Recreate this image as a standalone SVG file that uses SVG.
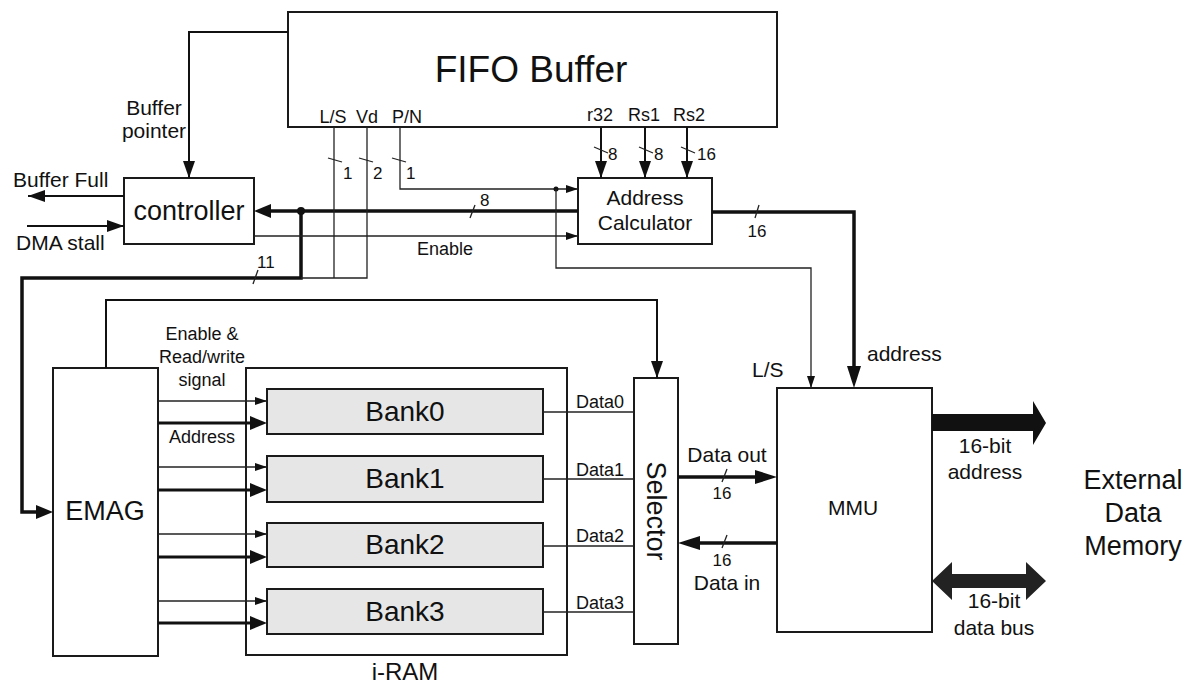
<svg xmlns="http://www.w3.org/2000/svg" width="1188" height="686" viewBox="0 0 1188 686">
<defs>
<style>
text{font-family:"Liberation Sans",Arial,sans-serif;fill:#111}
.box{fill:#fff;stroke:#1a1a1a;stroke-width:2}
.frame{fill:none;stroke:#1a1a1a;stroke-width:2}
.bank{fill:#e6e6e6;stroke:#1a1a1a;stroke-width:2}
.thin{fill:none;stroke:#222;stroke-width:1.3}
.med{fill:none;stroke:#111;stroke-width:2}
.thick{fill:none;stroke:#111;stroke-width:3.5}
.c{text-anchor:middle}
.s17{font-size:17px}.s18{font-size:18px}.s21{font-size:21px}.s27{font-size:27px}
</style>
<marker id="as" viewBox="0 0 12 8" refX="12" refY="4" markerWidth="12" markerHeight="8" markerUnits="userSpaceOnUse" orient="auto"><path d="M0,0 L12,4 L0,8 z" fill="#111"/></marker>
<marker id="am" viewBox="0 0 17 12" refX="17" refY="6" markerWidth="17" markerHeight="12" markerUnits="userSpaceOnUse" orient="auto"><path d="M0,0 L17,6 L0,12 z" fill="#111"/></marker>
<marker id="amT" viewBox="0 0 17 14" refX="11" refY="7" markerWidth="17" markerHeight="14" markerUnits="userSpaceOnUse" orient="auto"><path d="M0,0 L17,7 L0,14 z" fill="#111"/></marker>
<marker id="alT" viewBox="0 0 22 14" refX="16" refY="7" markerWidth="22" markerHeight="14" markerUnits="userSpaceOnUse" orient="auto"><path d="M0,0 L22,7 L0,14 z" fill="#111"/></marker>
</defs>
<rect width="1188" height="686" fill="#fff"/>

<g id="fifo">
<rect class="box" x="288" y="12" width="489" height="115"/>
<text class="c" x="531" y="82" font-size="37">FIFO Buffer</text>
<text class="s18 c" x="333" y="123">L/S</text>
<text class="s18 c" x="367" y="123">Vd</text>
<text class="s18 c" x="407" y="123">P/N</text>
<text class="s18 c" x="600" y="121">r32</text>
<text class="s18 c" x="644" y="121">Rs1</text>
<text class="s18 c" x="689" y="121">Rs2</text>
</g>

<g id="controller">
<rect class="box" x="124" y="178" width="130" height="66"/>
<text class="s27 c" x="189" y="220">controller</text>
</g>

<g id="address-calculator">
<rect class="box" x="578" y="178" width="134" height="66"/>
<text class="s21 c" x="645" y="205">Address</text>
<text class="s21 c" x="645" y="230">Calculator</text>
</g>

<g id="emag">
<rect class="box" x="53" y="368" width="105" height="288"/>
<text class="s27 c" x="105" y="520">EMAG</text>
</g>

<g id="iram">
<rect class="frame" x="246" y="368" width="321" height="287"/>
<text class="c" x="405" y="680" font-size="24">i-RAM</text>
</g>

<g id="bank0"><rect class="bank" x="267" y="389" width="276" height="45"/><text class="c" x="405" y="421" font-size="28">Bank0</text></g>
<g id="bank1"><rect class="bank" x="267" y="456" width="276" height="46"/><text class="c" x="405" y="488" font-size="28">Bank1</text></g>
<g id="bank2"><rect class="bank" x="267" y="523" width="276" height="44"/><text class="c" x="405" y="554" font-size="28">Bank2</text></g>
<g id="bank3"><rect class="bank" x="267" y="589" width="276" height="45"/><text class="c" x="405" y="621" font-size="28">Bank3</text></g>

<g id="selector">
<rect class="box" x="634" y="378" width="44" height="266"/>
<text class="s27 c" transform="translate(656,511) rotate(90)" x="0" y="9.5">Selector</text>
</g>

<g id="mmu">
<rect class="box" x="777" y="388" width="155" height="244"/>
<text class="s21 c" x="853" y="515">MMU</text>
</g>

<g id="external-memory">
<text class="s27 c" x="1133" y="489">External</text>
<text class="s27 c" x="1133" y="522">Data</text>
<text class="s27 c" x="1133" y="555">Memory</text>
</g>

<g id="connectors">
<polyline class="med" points="288,32 189,32 189,178" marker-end="url(#am)"/>
<line class="med" x1="124" y1="196" x2="28" y2="196" marker-end="url(#am)"/>
<line class="med" x1="27" y1="226" x2="124" y2="226" marker-end="url(#am)"/>
<polyline class="thick" points="578,211 260,211" marker-end="url(#amT)"/>
<polyline class="thick" points="301,211 301,278 22,278 22,512 47,512" marker-end="url(#amT)"/>
<circle cx="301" cy="211" r="4" fill="#111"/>
<line class="thin" x1="254" y1="236" x2="578" y2="236" marker-end="url(#as)"/>
<polyline class="thin" points="334,127 334,278"/>
<polyline class="thin" points="367,127 367,278 301,278"/>
<polyline class="thin" points="400,127 400,189 578,189" marker-end="url(#as)"/>
<circle cx="556" cy="189" r="2.5" fill="#111"/>
<polyline class="thin" points="556,189 556,268 811,268 811,388" marker-end="url(#as)"/>
<line class="med" x1="601" y1="127" x2="601" y2="178" marker-end="url(#am)"/>
<line class="med" x1="645" y1="127" x2="645" y2="178" marker-end="url(#am)"/>
<line class="med" x1="687" y1="127" x2="687" y2="178" marker-end="url(#am)"/>
<polyline class="thick" points="712,212 854,212 854,382" marker-end="url(#alT)"/>
<polyline class="med" points="106,368 106,300 657,300 657,378" marker-end="url(#am)"/>
<line class="thin" x1="158" y1="401" x2="267" y2="401" marker-end="url(#as)"/>
<line class="thick" x1="158" y1="423" x2="261" y2="423" style="stroke-width:3" marker-end="url(#amT)"/>
<line class="thin" x1="158" y1="467" x2="267" y2="467" marker-end="url(#as)"/>
<line class="thick" x1="158" y1="490" x2="261" y2="490" style="stroke-width:3" marker-end="url(#amT)"/>
<line class="thin" x1="158" y1="534" x2="267" y2="534" marker-end="url(#as)"/>
<line class="thick" x1="158" y1="557" x2="261" y2="557" style="stroke-width:3" marker-end="url(#amT)"/>
<line class="thin" x1="158" y1="601" x2="267" y2="601" marker-end="url(#as)"/>
<line class="thick" x1="158" y1="623" x2="261" y2="623" style="stroke-width:3" marker-end="url(#amT)"/>
<line class="thin" x1="543" y1="412" x2="634" y2="412" style="stroke-width:1.6"/>
<line class="thin" x1="543" y1="479" x2="634" y2="479" style="stroke-width:1.6"/>
<line class="thin" x1="543" y1="546" x2="634" y2="546" style="stroke-width:1.6"/>
<line class="thin" x1="543" y1="612" x2="634" y2="612" style="stroke-width:1.6"/>
<line class="thick" x1="678" y1="477" x2="771" y2="477" marker-end="url(#alT)"/>
<line class="thick" x1="777" y1="543" x2="684" y2="543" marker-end="url(#alT)"/>
<polygon points="932,414 1033,414 1033,401 1046,423 1033,445 1033,431 932,431" fill="#111"/>
<polygon points="932,581 952,562 952,574 1026,574 1026,562 1046,581 1026,600 1026,588 952,588 952,600" fill="#222"/>
<g class="thin">
<line x1="328" y1="158" x2="342" y2="162"/>
<line x1="359" y1="158" x2="373" y2="162"/>
<line x1="392" y1="158" x2="406" y2="162"/>
<line x1="470" y1="218" x2="475" y2="205"/>
<line x1="253" y1="284" x2="258" y2="270"/>
<line x1="594" y1="147" x2="608" y2="153"/>
<line x1="639" y1="147" x2="653" y2="153"/>
<line x1="681" y1="147" x2="695" y2="153"/>
<line x1="755" y1="218" x2="759" y2="205"/>
<line x1="722" y1="482" x2="727" y2="469"/>
<line x1="722" y1="548" x2="727" y2="535"/>
</g>
<text class="s21 c" x="154" y="115">Buffer</text>
<text class="s21 c" x="154" y="138">pointer</text>
<text class="s21" x="13" y="187">Buffer Full</text>
<text class="s21" x="16" y="250">DMA stall</text>
<text class="s17" x="343" y="179">1</text>
<text class="s17" x="373" y="179">2</text>
<text class="s17" x="406" y="179">1</text>
<text class="s17" x="480" y="206">8</text>
<text class="s18 c" x="445" y="255">Enable</text>
<text class="s17" x="257" y="268">11</text>
<text class="s17" x="608" y="160">8</text>
<text class="s17" x="654" y="160">8</text>
<text class="s17" x="697" y="160">16</text>
<text class="s17 c" x="757" y="237">16</text>
<text class="s21" x="867" y="361">address</text>
<text class="s21" x="752" y="377">L/S</text>
<text class="s18 c" x="202" y="340">Enable &amp;</text>
<text class="s18 c" x="202" y="363">Read/write</text>
<text class="s18 c" x="202" y="386">signal</text>
<text class="s18 c" x="202" y="443">Address</text>
<text class="s18 c" x="600" y="408">Data0</text>
<text class="s18 c" x="600" y="476">Data1</text>
<text class="s18 c" x="600" y="542">Data2</text>
<text class="s18 c" x="600" y="609">Data3</text>
<text class="s21 c" x="727" y="462">Data out</text>
<text class="s17 c" x="722" y="499">16</text>
<text class="s17 c" x="722" y="566">16</text>
<text class="s21 c" x="727" y="590">Data in</text>
<text class="s21 c" x="985" y="453">16-bit</text>
<text class="s21 c" x="985" y="479">address</text>
<text class="s21 c" x="994" y="608">16-bit</text>
<text class="s21 c" x="994" y="635">data bus</text>
</g>
</svg>
